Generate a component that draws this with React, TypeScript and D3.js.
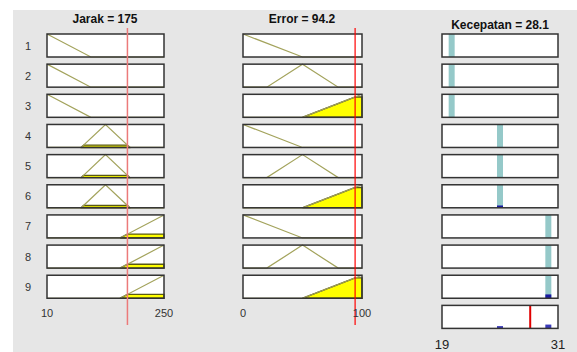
import React from 'react';
import * as d3 from 'd3';

// fuzzy system
const jarakRange = [10, 250];
const errorRange = [0, 100];
const outRange = [19, 31];
const jarakInput = 175;
const errorInput = 94.2;

const jarakMFs = [[10, 10, 100], [80, 130, 180], [160, 250, 250]];
const errorMFs = [[0, 0, 50], [20, 50, 80], [50, 100, 100]];
const outLevels = [20, 25, 30];

const ruleJarak = [0, 0, 0, 1, 1, 1, 2, 2, 2];
const ruleError = [0, 1, 2, 0, 1, 2, 0, 1, 2];
const ruleOut = [0, 0, 0, 1, 1, 1, 2, 2, 2];

const W = 577;
const H = 352;

function trimf(x: number, p: number[]) {
  const [a, b, c] = p;
  if (x < a || x > c) return 0;
  if (x <= b) return a === b ? 1 : (x - a) / (b - a);
  return c === b ? 1 : (c - x) / (c - b);
}

const rowScale = d3.scaleBand<number>()
  .domain(d3.range(10))
  .range([34, 328.4])
  .paddingInner(0.237);
const bh = rowScale.bandwidth();

const xJarak = d3.scaleLinear().domain(jarakRange).range([47, 164]);
const xError = d3.scaleLinear().domain(errorRange).range([243, 362]);
const xOut = d3.scaleLinear().domain(outRange).range([442, 558]);

const firing = ruleJarak.map((j, i) =>
  Math.min(trimf(jarakInput, jarakMFs[j]), trimf(errorInput, errorMFs[ruleError[i]])));
const outValue = d3.sum(firing, (w, i) => w * outLevels[ruleOut[i]]) / d3.sum(firing);

function InputCell(props: { x: d3.ScaleLinear<number, number>; row: number; mf: number[]; value: number }) {
  const { x, row, mf, value } = props;
  const top = rowScale(row) as number;
  const y = d3.scaleLinear().domain([0, 1]).range([top + bh, top]);
  const [d0, d1] = x.domain();
  const xs = Array.from(new Set([d0, mf[0], mf[1], mf[2], d1])).sort((a, b) => a - b);
  const deg = trimf(value, mf);
  const line = d3.line<number>().x(v => x(v)).y(v => y(trimf(v, mf)));
  const samples = d3.range(0, 401).map(i => d0 + (d1 - d0) * i / 400);
  const area = d3.area<number>()
    .x(v => x(v))
    .y0(y(0))
    .y1(v => y(Math.min(trimf(v, mf), deg)))
    .defined(v => trimf(v, mf) > 0 || v === mf[0] || v === mf[2]);
  return (
    <g>
      <rect x={x.range()[0]} y={top} width={x.range()[1] - x.range()[0]} height={bh} fill="#fff" />
      {deg > 0 && <path d={area(samples) || ''} fill="#ffff00" stroke="#5a5a12" strokeWidth={1.4} />}
      <path d={line(xs) || ''} fill="none" stroke="#a3a35c" strokeWidth={1.2} />
      <rect x={x.range()[0]} y={top} width={x.range()[1] - x.range()[0]} height={bh}
        fill="none" stroke="#333" strokeWidth={1.5} />
    </g>
  );
}

function OutputCell(props: { row: number; level: number; w: number }) {
  const { row, level, w } = props;
  const top = rowScale(row) as number;
  const y = d3.scaleLinear().domain([0, 1]).range([top + bh, top]);
  const [r0, r1] = xOut.range();
  return (
    <g>
      <rect x={r0} y={top} width={r1 - r0} height={bh} fill="#fff" />
      <rect x={xOut(level) - 3} y={y(1)} width={6} height={bh} fill="#95c9c9" />
      {w > 0 && <rect x={xOut(level) - 3} y={y(w)} width={6} height={y(0) - y(w)} fill="#1a1aa0" />}
      <rect x={r0} y={top} width={r1 - r0} height={bh} fill="none" stroke="#333" strokeWidth={1.5} />
    </g>
  );
}

export default function App() {
  const font = '"Liberation Sans", Arial, sans-serif';
  const aggTop = rowScale(9) as number;
  const yAgg = d3.scaleLinear().domain([0, 1]).range([aggTop + bh, aggTop]);
  const lineTop = 28;
  const lineBottom = 325;
  return (
    <svg width={W} height={H} style={{ position: 'absolute', left: 0, top: 0 }} fontFamily={font}>
      <rect x={0} y={0} width={W} height={H} fill="#fff" />
      <rect x={13} y={10} width={W - 13} height={H - 10} fill="#e6e6e6" />

      <text x={105} y={23} textAnchor="middle" fontSize={12} fontWeight="bold" fill="#111">{`Jarak = ${jarakInput}`}</text>
      <text x={302} y={23} textAnchor="middle" fontSize={12} fontWeight="bold" fill="#111">{`Error = ${errorInput}`}</text>
      <text x={500} y={29} textAnchor="middle" fontSize={12} fontWeight="bold" fill="#111">{`Kecepatan = ${outValue.toFixed(1)}`}</text>

      {ruleJarak.map((j, i) => (
        <g key={i}>
          <text x={28} y={(rowScale(i) as number) + bh / 2 + 4} textAnchor="middle" fontSize={11} fill="#333">{i + 1}</text>
          <InputCell x={xJarak} row={i} mf={jarakMFs[j]} value={jarakInput} />
          <InputCell x={xError} row={i} mf={errorMFs[ruleError[i]]} value={errorInput} />
          <OutputCell row={i} level={outLevels[ruleOut[i]]} w={firing[i]} />
        </g>
      ))}

      {/* aggregated output */}
      <rect x={xOut.range()[0]} y={aggTop} width={xOut.range()[1] - xOut.range()[0]} height={bh} fill="#fff" />
      {firing.map((w, i) => w > 0 && (
        <rect key={i} x={xOut(outLevels[ruleOut[i]]) - 3} y={yAgg(w)} width={6} height={yAgg(0) - yAgg(w)} fill="#3a3ab8" />
      ))}
      <line x1={xOut(outValue)} x2={xOut(outValue)} y1={aggTop} y2={aggTop + bh} stroke="#e00000" strokeWidth={2} />
      <rect x={xOut.range()[0]} y={aggTop} width={xOut.range()[1] - xOut.range()[0]} height={bh}
        fill="none" stroke="#333" strokeWidth={1.5} />

      {/* input markers */}
      <line x1={xJarak(jarakInput)} x2={xJarak(jarakInput)} y1={lineTop} y2={lineBottom} stroke="#ec7a7a" strokeWidth={1.5} />
      <line x1={xError(errorInput)} x2={xError(errorInput)} y1={lineTop} y2={lineBottom} stroke="#ff0000" strokeWidth={1.2} />

      {/* range labels */}
      {xJarak.domain().map(v => (
        <text key={'j' + v} x={xJarak(v)} y={317} textAnchor="middle" fontSize={11} fill="#333">{v}</text>
      ))}
      {xError.domain().map(v => (
        <text key={'e' + v} x={xError(v)} y={317} textAnchor="middle" fontSize={11} fill="#333">{v}</text>
      ))}
      {xOut.domain().map(v => (
        <text key={'o' + v} x={xOut(v)} y={349} textAnchor="middle" fontSize={13} fill="#222">{v}</text>
      ))}
    </svg>
  );
}
